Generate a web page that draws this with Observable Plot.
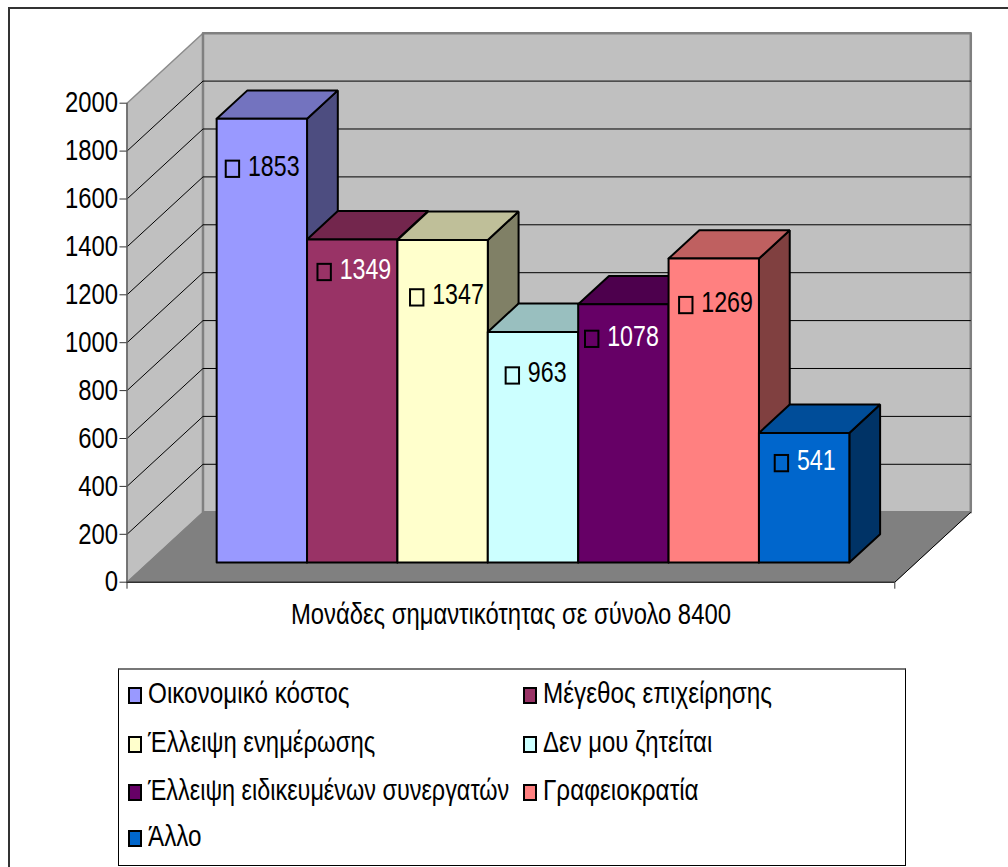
<!DOCTYPE html>
<html><head><meta charset="utf-8">
<script src="https://cdn.jsdelivr.net/npm/d3@7"></script>
<script src="https://cdn.jsdelivr.net/npm/@observablehq/plot@0.6"></script>
<style>
html,body{margin:0;padding:0;background:#fff;overflow:hidden}
#page{position:relative;width:1008px;height:867px;overflow:hidden;font-family:"Liberation Sans",Arial,sans-serif}
#frame{position:absolute;left:8px;top:7px;width:1100px;height:1000px;border:2px solid #333;pointer-events:none}
#chart{position:absolute;left:0;top:0}
#chart svg{display:block}
#legend{position:absolute;left:118px;top:668px;width:786px;height:195px;box-sizing:content-box;border:1px solid #000;border-top:2px solid #777;}
.item{position:absolute;display:flex;align-items:center;height:30px;font-size:29px;color:#000;white-space:nowrap;line-height:30px}
.sw{display:inline-block;box-sizing:border-box;width:14px;height:17px;border:2px solid #000;margin-right:6px;flex:none}
.lb{display:inline-block;position:relative;top:-2px;transform-origin:left center}
</style></head><body>
<div id="page"><div id="chart"></div><div id="legend"></div><div id="frame"></div></div>
<script>
const categories = ["Οικονομικό κόστος","Μέγεθος επιχείρησης","Έλλειψη ενημέρωσης","Δεν μου ζητείται","Έλλειψη ειδικευμένων συνεργατών","Γραφειοκρατία","Άλλο"];
const values = [1853,1349,1347,963,1078,1269,541];
const frontColors = ["#9999FF","#993366","#FFFFCC","#CCFFFF","#660066","#FF8080","#0066CC"];
const topColors   = ["#7373BF","#73264D","#BFBF99","#99BFBF","#4D004D","#BF6060","#004D99"];
const sideColors  = ["#4D4D80","#4D1A33","#808066","#668080","#330033","#804040","#003366"];
const labelColors = ["#000","#fff","#000","#000","#fff","#000","#fff"];
const yTicks = [0,200,400,600,800,1000,1200,1400,1600,1800,2000];
const xTitle = "Μονάδες σημαντικότητας σε σύνολο 8400";

// layout of the label inside each bar (category units across, value units down)
const labelAcross = [0.18,0.195,0.219,0.277,0.155,0.196,0.254];
const labelDrop   = [211,138,242,184,146,196,128];
const legendNarrow = [0.837,0.837,0.822,0.825,0.807,0.837,0.837];

// oblique projection of the 3D box
const floorW = 8.495, yMax = 2000, DX = 0.8407, DV = 292.3;
const barStart = 0.992, barFrontD = 0.281, barBackD = 0.686;
const px = (x,d) => x + d*DX, pv = (v,d) => v + d*DV;

function poly(id, fill, corners){
  return [...corners, corners[0]].map(([x,v,d]) => ({id, fill, x:px(x,d), y:pv(v,d)}));
}
const faces = values.flatMap((v,i) => {
  const a = barStart+i-barFrontD*DX, b = a+1, f = barFrontD, k = barBackD;
  return [
    ...poly(`s${i}`, sideColors[i],  [[b,0,f],[b,0,k],[b,v,k],[b,v,f]]),
    ...poly(`t${i}`, topColors[i],   [[a,v,f],[b,v,f],[b,v,k],[a,v,k]]),
    ...poly(`f${i}`, frontColors[i], [[a,0,f],[b,0,f],[b,v,f],[a,v,f]])
  ];
});
const leftWall = poly("lw","#C0C0C0",[[0,0,0],[0,yMax,0],[0,yMax,1],[0,0,1]]);
const backWall = poly("bw","#C0C0C0",[[0,0,1],[floorW,0,1],[floorW,yMax,1],[0,yMax,1]]);
const floorP   = poly("fl","#808080",[[0,0,0],[floorW,0,0],[floorW,0,1],[0,0,1]]);
const gridV = yTicks.filter(t => t>0 && t<yMax);
const labels = values.map((v,i) => {
  const lv = v-labelDrop[i], lx = px(barStart+i-barFrontD*DX+labelAcross[i],barFrontD);
  return {i,v,lx,ly:pv(lv,barFrontD),fill:frontColors[i],tc:labelColors[i]};
});
const hw = 0.074, hh = 34;

const plot = Plot.plot({
  width:1008, height:660,
  marginLeft:126.5, marginRight:113.7, marginTop:102.7, marginBottom:78.3,
  style:{background:"transparent",fontFamily:'"Liberation Sans",Arial,sans-serif'},
  x:{domain:[0,floorW],range:[126.5,894.3]},
  y:{domain:[0,yMax],range:[581.7,102.7]},
  color:{type:"identity"},
  marks:[
    Plot.line(leftWall,{x:"x",y:"y",z:"id",fill:"fill",stroke:"#8c8c8c",strokeWidth:1.5}),
    Plot.line(backWall,{x:"x",y:"y",z:"id",fill:"fill",stroke:"#808080",strokeWidth:2.5}),
    Plot.line(floorP,{x:"x",y:"y",z:"id",fill:"fill",stroke:"#808080",strokeWidth:1}),
    Plot.link(gridV,{x1:()=>px(0,0),y1:d=>pv(d,0),x2:()=>px(0,1),y2:d=>pv(d,1),stroke:"#000",strokeWidth:1}),
    Plot.link(gridV,{x1:()=>px(0,1),y1:d=>pv(d,1),x2:()=>px(floorW,1),y2:d=>pv(d,1),stroke:"#000",strokeWidth:1}),
    Plot.link([0],{x1:()=>px(floorW,0),y1:()=>pv(0,0),x2:()=>px(floorW,1),y2:()=>pv(0,1),stroke:"#000",strokeWidth:1}),
    Plot.ruleY([0],{x1:0,x2:floorW,stroke:"#000",strokeWidth:1}),
    Plot.ruleX([0],{y1:0,y2:yMax,stroke:"#666",strokeWidth:1.5}),
    Plot.line(faces,{x:"x",y:"y",z:"id",fill:"fill",stroke:"#000",strokeWidth:2,strokeLinejoin:"miter"}),
    Plot.rect(labels,{x1:d=>d.lx-hw,x2:d=>d.lx+hw,y1:d=>d.ly-hh,y2:d=>d.ly+hh,fill:"fill",stroke:"#000",strokeWidth:2}),
    Plot.text(labels,{x:"lx",y:"ly",text:d=>String(d.v),fill:"tc",dx:15,dy:-3,textAnchor:"start",fontSize:29,className:"datalabel"}),
    Plot.axisY({ticks:yTicks,tickSize:7,tickPadding:2,tickFormat:d=>String(d),fontSize:29,stroke:"#333",label:null}),
    Plot.axisX({ticks:[0,floorW],tickSize:7,tickFormat:()=>"",stroke:"#333",label:xTitle,labelAnchor:"center",labelArrow:"none",labelOffset:42,fontSize:29})
  ]
});
document.getElementById("chart").appendChild(plot);

// the reference's type is a condensed Arial: narrow the svg texts to match
plot.querySelectorAll("text").forEach(t => {
  const len = t.getComputedTextLength();
  if (len > 0) {
    const k = t.closest(".datalabel") ? 0.8 : 0.822;
    t.setAttribute("textLength", (len*k).toFixed(1));
    t.setAttribute("lengthAdjust", "spacingAndGlyphs");
  }
});

// legend below the svg
const legend = document.getElementById("legend");
const colX = [9,404], rowY = [10,59,107,153];
categories.forEach((c,i)=>{
  const it = document.createElement("div"); it.className="item";
  it.style.left = colX[i%2]+"px"; it.style.top = rowY[Math.floor(i/2)]+"px";
  const s = document.createElement("span"); s.className="sw"; s.style.background = frontColors[i];
  const l = document.createElement("span"); l.className="lb"; l.textContent = c;
  l.style.transform = `scaleX(${legendNarrow[i]})`;
  it.appendChild(s); it.appendChild(l);
  legend.appendChild(it);
});
</script></body></html>
